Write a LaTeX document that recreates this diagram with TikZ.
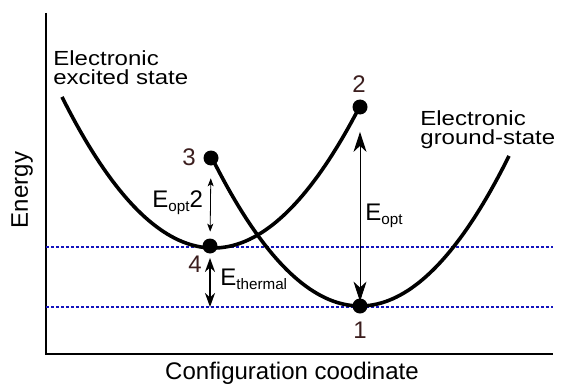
\documentclass[tikz,border=0pt]{standalone}
\usepackage{fontspec}
\setmainfont{Liberation Sans}
\usetikzlibrary{arrows.meta}
\definecolor{numcol}{RGB}{60,30,30}
\definecolor{dashblue}{RGB}{20,20,190}
\newcommand{\subtxt}[1]{\raisebox{-2.2pt}{\fontsize{7.6}{9}\selectfont #1}}
\begin{document}
\begin{tikzpicture}[x=0.5pt,y=-0.5pt,
  dot/.style={circle,fill=black,inner sep=0pt,minimum size=7.5pt},
  numlab/.style={text=numcol,font=\fontsize{12}{14}\selectfont,inner sep=0pt},
  biglab/.style={font=\fontsize{12}{14}\selectfont,inner sep=0pt},
  statelab/.style={font=\fontsize{12}{11.6}\selectfont,align=left,inner sep=0pt,yscale=0.85,transform shape},
  curve/.style={line width=1.8pt},
  axisline/.style={line width=0.8pt},
  level/.style={dashblue,line width=0.6pt,dash pattern=on 1.5pt off 1pt},
  bigarrow/.style={line width=0.5pt,{Stealth[length=10pt,width=6.5pt,inset=3pt]}-{Stealth[length=10pt,width=6.5pt,inset=3pt]}},
  smallarrow/.style={line width=0.4pt,{Stealth[length=4pt,width=3pt,inset=1pt]}-{Stealth[length=4pt,width=3pt,inset=1pt]}},
  medarrow/.style={line width=1pt,{Stealth[length=7pt,width=5pt,inset=2.2pt]}-{Stealth[length=7pt,width=5pt,inset=2.2pt]}}
]
\useasboundingbox (0,0) rectangle (561,390);
% axes
\coordinate (origin) at (46,354);
\coordinate (ytop) at (46,13);
\coordinate (xend) at (553,354);
\draw[axisline] (ytop) -- (origin) -- (xend);
% levels
\coordinate (l1a) at (46,247); \coordinate (l1b) at (553,247);
\coordinate (l2a) at (46,307); \coordinate (l2b) at (553,307);
\draw[level] (l1a) -- (l1b);
\draw[level] (l2a) -- (l2b);
% curves
\draw[curve] plot[domain=62:359,samples=80] (\x,{248-(0.08124*(\x-213.3))^2});
\draw[curve] plot[domain=212:509,samples=80] (\x,{306-(0.08222*(\x-360))^2});
% dots
\node[dot] (p1) at (360,306) {};
\node[dot] (p2) at (360,107) {};
\node[dot] (p3) at (211,158) {};
\node[dot] (p4) at (210,246) {};
\node[numlab] (n1) at (360,330) {1};
\node[numlab] (n2) at (359,84.5) {2};
\node[numlab] (n3) at (189,157) {3};
\node[numlab] (n4) at (195,264) {4};
% arrows
\draw[bigarrow,shorten <=8.5pt,shorten >=-1.75pt] (p2) -- (p1);
\draw[smallarrow,shorten <=6.2pt,shorten >=3.2pt] (p3) -- (p4);
\coordinate (tb) at (210,307);
\draw[medarrow,shorten <=2pt] (p4) -- (tb);
% labels
\node[biglab,anchor=base west] (eopt) at (365,220) {E\subtxt{opt}};
\node[biglab,anchor=base west] (eopt2) at (152,207) {E\subtxt{opt}2};
\node[biglab,anchor=base west] (eth) at (220,285) {E\subtxt{thermal}};
\node[biglab,rotate=90] (ylab) at (22,190) {Energy};
\node[biglab,anchor=base] (xlab) at (292,379) {Configuration coodinate};
\node[statelab,anchor=north west] (exc) at (53,50) {Electronic\\excited state};
\node[statelab,anchor=north west] (gnd) at (420,110) {Electronic\\ground-state};
\end{tikzpicture}
\end{document}
